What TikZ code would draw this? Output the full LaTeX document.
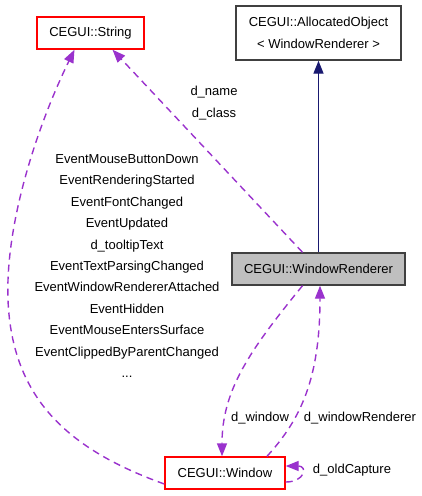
\documentclass[tikz,border=0pt]{standalone}
\usepackage{fontspec}
\setmainfont{Liberation Sans}
\usetikzlibrary{arrows.meta}
\definecolor{usecol}{HTML}{9A32CD}
\definecolor{inhcol}{HTML}{191970}
\definecolor{boxred}{HTML}{FF0000}
\tikzset{
  classbox/.style={draw=black!75, line width=1.4pt, minimum height=32pt, inner sep=0pt, font=\fontsize{13}{22}\selectfont, align=center},
  redbox/.style={classbox, draw=boxred},
  usage/.style={usecol, line width=1.4pt, dash pattern=on 7pt off 5pt, -{Triangle[length=13pt,width=10pt]}},
  inherit/.style={inhcol, line width=1.4pt, -{Triangle[length=13pt,width=10pt]}},
  lbl/.style={font=\fontsize{13}{21.4}\selectfont, align=center, inner sep=0pt}
}
\begin{document}
\begin{tikzpicture}[x=1pt,y=-1pt]
\useasboundingbox (0,0) rectangle (421,496);

\node[redbox, minimum width=107pt] (string) at (90.5,33) {CEGUI::String};
\node[classbox, minimum width=165pt, minimum height=54pt] (alloc) at (318.5,33) {CEGUI::AllocatedObject\\< WindowRenderer >};
\node[classbox, fill=black!25, minimum width=173pt] (wr) at (318.5,269) {CEGUI::WindowRenderer};
\node[redbox, minimum width=120pt] (win) at (225,473) {CEGUI::Window};

\draw[inherit] (wr.north) -- (alloc.south);
\draw[usage] ([xshift=-16pt]wr.north) -- ([xshift=22pt]string.south);
\draw[usage] ([yshift=-11pt]win.west) .. controls (70,450) and (12,400) .. (8,300)
  .. controls (5,220) and (40,120) .. ([xshift=-16pt]string.south);
\draw[usage] ([xshift=-16pt]wr.south) .. controls (250,350) and (222,390) .. ([xshift=-3pt]win.north);
\draw[usage] ([xshift=42pt]win.north) .. controls (300,420) and (320,380) .. ([xshift=1.5pt]wr.south);
\draw[usage] ([yshift=-9pt]win.east) .. controls (305,482) and (308,466) .. ([yshift=7pt]win.east);

\node[lbl] (lname) at (214,92) {d\_name};
\node[lbl] (lclass) at (214,114) {d\_class};
\node[lbl] (levents) at (127,266) {EventMouseButtonDown\\EventRenderingStarted\\EventFontChanged\\EventUpdated\\d\_tooltipText\\EventTextParsingChanged\\EventWindowRendererAttached\\EventHidden\\EventMouseEntersSurface\\EventClippedByParentChanged\\...};
\node[lbl] (lwindow) at (260,418) {d\_window};
\node[lbl] (lwr) at (360,418) {d\_windowRenderer};
\node[lbl] (lcapture) at (352,470) {d\_oldCapture};
\end{tikzpicture}
\end{document}
